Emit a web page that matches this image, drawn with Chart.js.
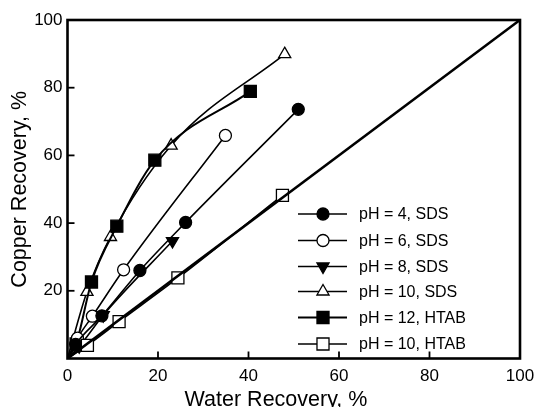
<!DOCTYPE html>
<html>
<head>
<meta charset="utf-8">
<script src="https://cdn.jsdelivr.net/npm/chart.js@4"></script>
<style>
  html, body { margin: 0; padding: 0; background: #fff; }
  #wrap { width: 535px; height: 407px; position: relative; }
</style>
</head>
<body>
<div id="wrap"><canvas id="recoveryChart"></canvas></div>
<script>
// Copper recovery vs water recovery (first point of each run is the origin, drawn without marker)
const ph4Sds  = [[0, 0], [1.8, 4.2], [7.6, 12.6], [16, 26], [26.1, 40.2], [51, 73.6]];
const ph6Sds  = [[0, 0], [2.2, 6], [5.5, 12.5], [12.4, 26.2], [34.9, 65.9]];
const ph8Sds  = [[0, 0], [2.6, 3.6], [7.9, 12.8], [23.2, 34.7]];
const ph10Sds = [[0, 0], [4.3, 19.7], [9.5, 35.9], [22.9, 62.9], [48, 89.9]];
const ph12Htab = [[0, 0], [1.9, 4.3], [5.3, 22.6], [10.9, 39.1], [19.3, 58.6], [40.4, 78.9]];
const ph10Htab = [[0, 0], [4.4, 3.9], [11.4, 10.9], [24.4, 23.8], [47.5, 48.2]];
const parity = [[0, 0], [100, 100]];

const seriesLabels = ['pH = 4, SDS', 'pH = 6, SDS', 'pH = 8, SDS', 'pH = 10, SDS', 'pH = 12, HTAB', 'pH = 10, HTAB'];
const tickValues = [0, 20, 40, 60, 80, 100];

const toXY = arr => arr.map(p => ({ x: p[0], y: p[1] }));
const markerRadii = (arr, r) => arr.map((p, i) => (i === 0 ? 0 : r));

function series(label, arr, style, fill, r, rot, width) {
    return {
        label: label,
        data: toXY(arr),
        borderColor: '#000',
        borderWidth: width || 1.6,
        pointStyle: style,
        pointRotation: rot || 0,
        pointRadius: markerRadii(arr, r),
        pointBackgroundColor: fill,
        pointBorderColor: '#000',
        pointBorderWidth: 1.3,
        cubicInterpolationMode: 'monotone',
        fill: false
    };
}

const datasets = [
    { label: 'parity', data: toXY(parity), borderColor: '#000', borderWidth: 2.6, pointRadius: 0, fill: false },
    series(seriesLabels[5], ph10Htab, 'rect', '#fff', 8.5),
    series(seriesLabels[0], ph4Sds, 'circle', '#000', 6),
    series(seriesLabels[2], ph8Sds, 'triangle', '#000', 7, 180),
    series(seriesLabels[1], ph6Sds, 'circle', '#fff', 6),
    series(seriesLabels[4], ph12Htab, 'rect', '#000', 8.5, 0, 2),
    series(seriesLabels[3], ph10Sds, 'triangle', '#fff', 7)
];

// legend with line + marker, frame, inward ticks and axis titles
const decorations = {
    id: 'decorations',
    beforeDatasetsDraw(chart) {
        const ctx = chart.ctx, a = chart.chartArea;
        const xs = chart.scales.x, ys = chart.scales.y;
        ctx.save();
        ctx.strokeStyle = '#000';
        ctx.lineWidth = 1.8;
        tickValues.slice(1, -1).forEach(v => {
            const px = xs.getPixelForValue(v);
            ctx.beginPath(); ctx.moveTo(px, a.bottom); ctx.lineTo(px, a.bottom - 7); ctx.stroke();
            const py = ys.getPixelForValue(v);
            ctx.beginPath(); ctx.moveTo(a.left, py); ctx.lineTo(a.left + 7, py); ctx.stroke();
        });
        ctx.restore();
    },
    afterDatasetsDraw(chart) {
        const ctx = chart.ctx, a = chart.chartArea;
        ctx.save();
        ctx.strokeStyle = '#000';
        ctx.lineWidth = 2.6;
        ctx.strokeRect(a.left, a.top, a.right - a.left, a.bottom - a.top);

        // legend
        const order = [2, 4, 3, 6, 5, 1];
        const rowsY = [214, 240.5, 266.5, 291.5, 317.5, 344];
        order.forEach((di, i) => {
            const ds = chart.data.datasets[di];
            const y = rowsY[i];
            ctx.strokeStyle = '#000';
            ctx.lineWidth = ds.borderWidth;
            ctx.beginPath(); ctx.moveTo(298, y); ctx.lineTo(347, y); ctx.stroke();
            ctx.fillStyle = ds.pointBackgroundColor;
            ctx.lineWidth = ds.pointBorderWidth;
            Chart.helpers.drawPoint(ctx, {
                pointStyle: ds.pointStyle,
                rotation: ds.pointRotation,
                radius: ds.pointRadius[1],
                borderWidth: ds.pointBorderWidth
            }, 323, y);
            ctx.fillStyle = '#000';
            ctx.font = '16px "Liberation Sans", Arial, sans-serif';
            ctx.textBaseline = 'middle';
            ctx.textAlign = 'left';
            ctx.fillText(ds.label, 359, y + 1);
        });

        // axis titles
        ctx.fillStyle = '#000';
        ctx.font = '21.5px "Liberation Sans", Arial, sans-serif';
        ctx.textAlign = 'center';
        ctx.textBaseline = 'alphabetic';
        ctx.fillText('Water Recovery, %', 276, 405.5);
        ctx.translate(20.5, (a.top + a.bottom) / 2);
        ctx.rotate(-Math.PI / 2);
        ctx.textBaseline = 'middle';
        ctx.fillText('Copper Recovery, %', 0, 0);
        ctx.restore();
    }
};

new Chart(document.getElementById('recoveryChart').getContext('2d'), {
    type: 'line',
    data: { datasets: datasets },
    options: {
        responsive: true,
        maintainAspectRatio: false,
        animation: false,
        events: [],
        layout: { padding: { top: 20, right: 15, left: 0, bottom: 0 } },
        plugins: { legend: { display: false }, tooltip: { enabled: false } },
        scales: {
            x: {
                type: 'linear',
                min: 0, max: 100,
                afterBuildTicks: s => { s.ticks = tickValues.map(v => ({ value: v })); },
                afterFit: s => { s.height = 48.5; s.paddingLeft = 0; s.paddingRight = 0; },
                grid: { display: false, drawTicks: false },
                border: { display: false },
                ticks: { color: '#000', padding: 8, maxRotation: 0, font: { size: 17, family: '"Liberation Sans", Arial, sans-serif' } }
            },
            y: {
                type: 'linear',
                min: 0, max: 100,
                afterBuildTicks: s => { s.ticks = tickValues.map(v => ({ value: v })); },
                afterFit: s => { s.width = 67.5; s.paddingTop = 0; s.paddingBottom = 0; },
                grid: { display: false, drawTicks: false },
                border: { display: false },
                ticks: {
                    color: '#000', padding: 5,
                    font: { size: 17, family: '"Liberation Sans", Arial, sans-serif' },
                    callback: v => (v === 0 ? '' : v)
                }
            }
        }
    },
    plugins: [decorations]
});
</script>
</body>
</html>
